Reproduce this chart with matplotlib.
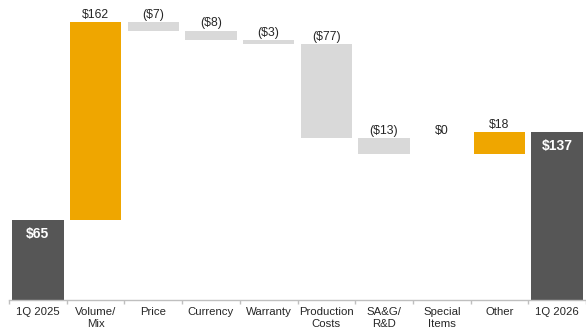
import matplotlib
matplotlib.use("Agg")
import matplotlib.pyplot as plt
import numpy as np

categories = ["1Q 2025", "Volume/\nMix", "Price", "Currency", "Warranty",
              "Production\nCosts", "SA&G/\nR&D", "Special\nItems", "Other", "1Q 2026"]
values = [65, 162, -7, -8, -3, -77, -13, 0, 18, 137]
labels = ["$65", "$162", "($7)", "($8)", "($3)", "($77)", "($13)", "$0", "$18", "$137"]
is_total = [True, False, False, False, False, False, False, False, False, True]

ORANGE = "#EFA600"
DARK = "#565656"
LIGHT = "#D9D9D9"
AXIS = "#BFBFBF"

plt.rcParams["font.family"] = ["Liberation Sans", "DejaVu Sans"]

W, H = 586, 333
fig = plt.figure(figsize=(W / 100, H / 100), dpi=100)
ax = fig.add_axes([9 / W, 33 / H, 577 / W, 300 / H])

x = np.arange(len(categories))
running = 0
prev_top = 0
for i, (v, lab, tot) in enumerate(zip(values, labels, is_total)):
    if tot:
        bottom, height, color = 0, v, DARK
        running = v
    else:
        bottom = running if v >= 0 else running + v
        height = abs(v)
        color = ORANGE if v > 0 else LIGHT
        running += v
    ax.bar(x[i], height, bottom=bottom, width=0.89, color=color, linewidth=0)
    top = bottom + height
    if tot:
        ax.annotate(lab, (x[i], top), xytext=(0, -10), textcoords="offset points",
                    ha="center", va="center", color="white", fontsize=10,
                    fontweight="bold")
    else:
        ly = top if v != 0 else prev_top
        ax.annotate(lab, (x[i], ly), xytext=(0, 1), textcoords="offset points",
                    ha="center", va="bottom", color="#262626", fontsize=8.8)
    prev_top = top

ax.set_xlim(-0.5, 9.33)
ax.set_ylim(0, 245)
for s in ["top", "right", "left"]:
    ax.spines[s].set_visible(False)
ax.spines["bottom"].set_color(AXIS)
ax.spines["bottom"].set_linewidth(1.0)
ax.set_yticks([])
ax.set_xticks(x)
ax.set_xticklabels(categories, fontsize=8.2, color="#262626", linespacing=1.25)
ax.tick_params(axis="x", which="major", length=0, pad=5)
ax.set_xticks(np.arange(-0.5, 10, 1), minor=True)
ax.tick_params(axis="x", which="minor", length=3, color=AXIS, width=1)

fig.savefig("out.png", dpi=100, facecolor="white")
